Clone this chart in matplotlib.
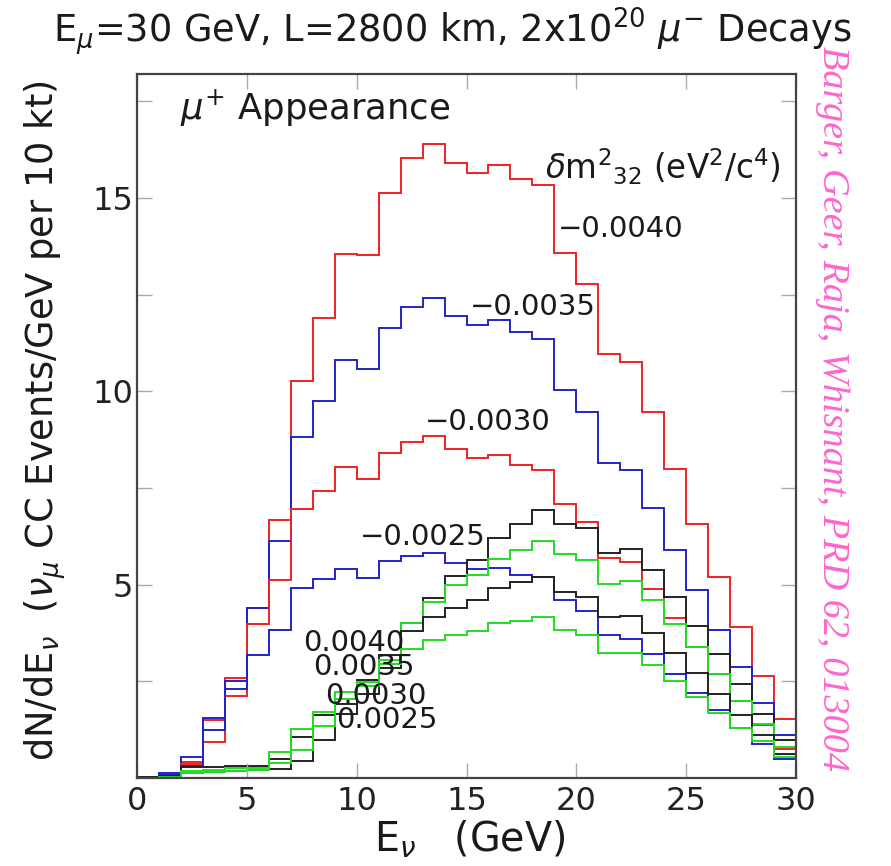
import numpy as np
import matplotlib
matplotlib.use('Agg')
from matplotlib import pyplot as plt

# 1 GeV bins from 0 to 30 GeV
edges = np.arange(0, 31, 1)

# dN/dE for the inverted (negative dm^2_32) cases
dm_m0040 = [0.03, 0.10, 0.42, 1.49, 2.58, 4.39, 6.66, 10.27, 11.90, 13.55, 13.52, 15.12, 16.03, 16.40, 15.89,
            15.65, 15.86, 15.49, 15.32, 13.57, 12.77, 10.97, 10.76, 9.45, 7.98, 6.57, 5.20, 3.90, 2.63, 1.52]
dm_m0035 = [0.03, 0.12, 0.54, 1.56, 2.52, 4.39, 6.12, 8.81, 9.75, 10.81, 10.58, 11.64, 12.18, 12.40, 11.95,
            11.71, 11.83, 11.53, 11.36, 10.04, 9.45, 8.15, 7.96, 6.99, 5.90, 4.85, 3.83, 2.87, 1.94, 1.12]
dm_m0030 = [0.03, 0.08, 0.36, 0.94, 2.13, 3.97, 5.13, 6.95, 7.42, 8.03, 7.73, 8.41, 8.70, 8.84, 8.50,
            8.27, 8.34, 8.09, 7.97, 7.08, 6.62, 5.70, 5.58, 4.89, 4.14, 3.40, 2.70, 2.00, 1.36, 0.75]
dm_m0025 = [0.03, 0.08, 0.30, 1.23, 2.31, 3.17, 3.83, 4.90, 5.15, 5.41, 5.17, 5.60, 5.75, 5.83, 5.55,
            5.40, 5.43, 5.26, 5.20, 4.61, 4.32, 3.71, 3.60, 3.20, 2.68, 2.21, 1.75, 1.30, 0.87, 0.49]
# normal (positive dm^2_32) cases
dm_p0040 = [0.02, 0.05, 0.28, 0.28, 0.30, 0.30, 0.48, 1.06, 1.63, 1.92, 2.54, 3.19, 4.01, 4.65, 5.21,
            5.64, 6.21, 6.58, 6.92, 6.58, 6.46, 5.82, 5.92, 5.37, 4.68, 3.94, 3.21, 2.44, 1.66, 0.97]
dm_p0035 = [0.01, 0.03, 0.18, 0.22, 0.25, 0.27, 0.67, 1.26, 1.70, 2.22, 2.48, 3.04, 4.01, 4.55, 4.98,
            5.24, 5.67, 5.90, 6.14, 5.78, 5.63, 5.02, 5.09, 4.59, 3.99, 3.38, 2.69, 2.00, 1.40, 0.80]
dm_p0030 = [0.02, 0.04, 0.12, 0.15, 0.18, 0.20, 0.24, 0.45, 0.97, 1.66, 2.18, 2.85, 3.80, 4.16, 4.39,
            4.59, 4.92, 5.07, 5.20, 4.81, 4.68, 4.16, 4.18, 3.75, 3.23, 2.71, 2.18, 1.62, 1.12, 0.62]
dm_p0025 = [0.01, 0.02, 0.12, 0.15, 0.18, 0.21, 0.38, 0.73, 1.35, 2.05, 2.39, 2.95, 3.34, 3.57, 3.69,
            3.80, 4.00, 4.07, 4.16, 3.83, 3.69, 3.23, 3.23, 2.91, 2.50, 2.09, 1.68, 1.30, 0.95, 0.55]

curves = [dm_m0040, dm_m0035, dm_m0030, dm_m0025, dm_p0040, dm_p0035, dm_p0030, dm_p0025]
colors = ['#ee2222', '#2222cc', '#ee2222', '#2222cc', '#222222', '#22dd22', '#222222', '#22dd22']

xticks = [0, 5, 10, 15, 20, 25, 30]
yticks = [2.5, 5, 7.5, 10, 12.5, 15, 17.5]
ytick_labels = ['', '5', '', '10', '', '15', '']

fig = plt.figure(figsize=(8.91, 8.66), dpi=100)
ax = fig.add_axes([0.1538, 0.1016, 0.7396, 0.8129])

for vals, col in zip(curves, colors):
    ax.stairs(vals, edges, baseline=None, color=col, linewidth=1.4)

ax.set_xlim(0, 30)
ax.set_ylim(0, 18.2)
ax.set_xticks(xticks)
ax.set_yticks(yticks)
ax.set_yticklabels(ytick_labels)
ax.tick_params(direction='in', length=11, width=1, color='#aaaaaa', labelsize=23,
               labelcolor='#222222', top=True, right=True)
ax.tick_params(axis='x', pad=6)
ax.tick_params(axis='y', pad=3)
for sp in ax.spines.values():
    sp.set_color('#444444')
    sp.set_linewidth(1.6)

txt = '#1a1a1a'
ax.text(1.96, 17.32, r'$\mu^{+}$ Appearance', fontsize=25.5, color=txt, ha='left', va='center')
ax.text(18.57, 15.80, r'$\delta$m$^{2}$$_{32}$ (eV$^{2}$/c$^{4}$)', fontsize=23.5, color=txt,
        ha='left', va='center')

# curve labels
labels = ['\u22120.0040', '\u22120.0035', '\u22120.0030', '\u22120.0025',
          '0.0040', '0.0035', '0.0030', '0.0025']
label_xy = [(19.16, 14.19), (15.16, 12.17), (13.11, 9.20), (10.15, 6.22),
            (7.56, 3.48), (8.01, 2.86), (8.56, 2.13), (9.06, 1.49)]
for lab, (lx, ly) in zip(labels, label_xy):
    ax.text(lx, ly, lab, fontsize=21, color=txt, ha='left', va='center')

fig.text(0.508, 1 - 31 / 866, r'E$_{\mu}$=30 GeV, L=2800 km, 2x10$^{20}$ $\mu^{-}$ Decays',
         fontsize=26.5, color=txt, ha='center', va='center')
fig.text(470 / 891, 1 - 840 / 866, r'E$_{\nu}$   (GeV)', fontsize=28.5, color=txt,
         ha='center', va='center')
fig.text(45 / 891, 1 - 421 / 866,
         r'dN/dE$_{\nu}$  ($\boldsymbol{\nu_{\mu}}$ CC Events/GeV per 10 kt)',
         fontsize=26.5, color=txt, rotation=90, ha='center', va='center')
fig.text(832 / 891, 1 - 408 / 866, 'Barger, Geer, Raja, Whisnant, PRD 62, 013004',
         fontsize=27.5, color='#ff66cc', family='Liberation Serif', style='italic',
         rotation=-90, ha='center', va='center')

fig.savefig('out.png', dpi=100, facecolor='white')
